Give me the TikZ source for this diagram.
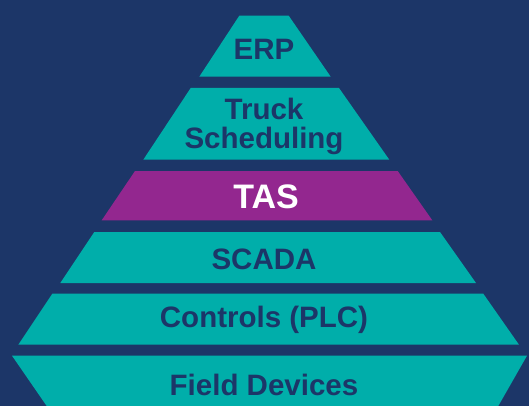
\documentclass[tikz,border=0pt]{standalone}
\usepackage{fontspec}
\setmainfont{Liberation Sans}
\definecolor{navy}{RGB}{28,54,104}
\definecolor{teal2}{RGB}{0,174,170}
\definecolor{purp}{RGB}{147,39,143}
\begin{document}
\begin{tikzpicture}[x=1pt,y=-1pt,
  layer/.style={fill=teal2},
  lbl/.style={anchor=base,inner sep=0pt,text=navy,font=\bfseries\fontsize{29.5}{29.5}\selectfont},
  lblw/.style={anchor=base,inner sep=0pt,text=white,font=\bfseries\fontsize{34}{34}\selectfont}]
\useasboundingbox (0,0) rectangle (529,406);
\fill[navy] (0,0) rectangle (529,406);
\begin{scope}
\clip (0,0) rectangle (529,406);
% ERP
\fill[layer] (239.3,15.7) -- (288.7,15.7) -- (330.7,76.7) -- (199.3,76.7) -- cycle;
% Truck Scheduling
\fill[layer] (190.7,88) -- (339,88) -- (389.3,159.7) -- (143.3,159.7) -- cycle;
% TAS
\fill[purp] (135,171) -- (397.7,171) -- (432.3,220.3) -- (101.7,220.3) -- cycle;
% SCADA
\fill[layer] (94.3,232) -- (440,232) -- (476,283) -- (60.3,283) -- cycle;
% Controls
\fill[layer] (52.3,293.7) -- (483.3,293.7) -- (519,344.7) -- (18.3,344.7) -- cycle;
% Field devices
\fill[layer] (12,355.7) -- (527,355.7) -- (498.3,406) -- (46.7,406) -- cycle;
\end{scope}
\node[lbl] (erp) at (264,59.3) {ERP};
\node[lbl] (truck) at (264,119.3) {Truck};
\node[lbl] (sched) at (264,148.3) {Scheduling};
\node[lblw] (tas) at (266,208.3) {TAS};
\node[lbl] (scada) at (264,269.7) {SCADA};
\node[lbl] (plc) at (264,327.3) {Controls (PLC)};
\node[lbl] (field) at (264,395.7) {Field Devices};
\end{tikzpicture}
\end{document}
